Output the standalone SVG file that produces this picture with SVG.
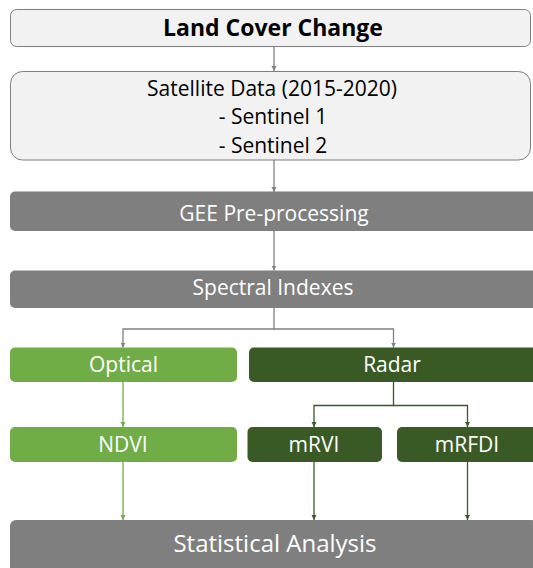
<svg xmlns="http://www.w3.org/2000/svg" width="533" height="568" viewBox="0 0 533 568">
<style>
.light{fill:#f2f2f2;stroke:#7f7f7f;stroke-width:1}
.grey{fill:#7f7f7f}
.green{fill:#70ad47}
.dark{fill:#3a5a25}
text{font-family:"Open Sans","Liberation Sans",sans-serif;text-anchor:middle}
.w{fill:#ffffff}
.b{fill:#000000}
.cg{stroke:#808080;stroke-width:1.3;fill:none}
.cl{stroke:#70ad47;stroke-width:1.3;fill:none}
.cd{stroke:#3a5a25;stroke-width:1.3;fill:none}
</style>
<defs>
<marker id="ag" markerWidth="6" markerHeight="6" refX="5" refY="3" orient="auto" markerUnits="userSpaceOnUse"><path d="M0,0.5 L5,3 L0,5.5 z" fill="#808080"/></marker>
<marker id="al" markerWidth="6" markerHeight="6" refX="5" refY="3" orient="auto" markerUnits="userSpaceOnUse"><path d="M0,0.5 L5,3 L0,5.5 z" fill="#70ad47"/></marker>
<marker id="ad" markerWidth="6" markerHeight="6" refX="5" refY="3" orient="auto" markerUnits="userSpaceOnUse"><path d="M0,0.5 L5,3 L0,5.5 z" fill="#3a5a25"/></marker>
</defs>
<g id="connectors">
<path class="cg" d="M274,46.5 V71" marker-end="url(#ag)"/>
<path class="cg" d="M274,160 V192" marker-end="url(#ag)"/>
<path class="cg" d="M274,231 V270.5" marker-end="url(#ag)"/>
<path class="cg" d="M274,308 V329 H123 V347.5" marker-end="url(#ag)"/>
<path class="cg" d="M274,329 H393.5 V347.5" marker-end="url(#ag)"/>
<path class="cl" d="M123,382 V427" marker-end="url(#al)"/>
<path class="cd" d="M393.5,382 V405.5 H314 V427" marker-end="url(#ad)"/>
<path class="cd" d="M393.5,405.5 H467.5 V427" marker-end="url(#ad)"/>
<path class="cl" d="M123,462 V520" marker-end="url(#al)"/>
<path class="cd" d="M314,462 V520" marker-end="url(#ad)"/>
<path class="cd" d="M467.5,462 V520" marker-end="url(#ad)"/>
</g>
<g id="land-cover-change">
<rect class="light" x="10.5" y="9.5" width="520" height="37" rx="6"/>
<text class="b" x="273" y="35.5" font-size="23" font-weight="bold">Land Cover Change</text>
</g>
<g id="satellite-data">
<rect class="light" x="10.5" y="71.5" width="520" height="88.5" rx="12"/>
<text class="b" x="272" y="96" font-size="21">Satellite Data (2015-2020)</text>
<text class="b" x="273" y="124" font-size="21">- Sentinel 1</text>
<text class="b" x="273" y="153" font-size="21">- Sentinel 2</text>
</g>
<g id="gee-preprocessing">
<rect class="grey" x="10" y="191.5" width="527" height="39.5" rx="5"/>
<text class="w" x="274" y="220.7" font-size="21">GEE Pre-processing</text>
</g>
<g id="spectral-indexes">
<rect class="grey" x="10" y="270.5" width="527" height="37.5" rx="5"/>
<text class="w" x="273" y="295" font-size="21">Spectral Indexes</text>
</g>
<g id="optical">
<rect class="green" x="10" y="347.5" width="227" height="34.5" rx="5"/>
<text class="w" x="123.5" y="372.3" font-size="21">Optical</text>
</g>
<g id="radar">
<rect class="dark" x="249" y="347.5" width="290" height="34.5" rx="5"/>
<text class="w" x="392" y="372.3" font-size="21">Radar</text>
</g>
<g id="ndvi">
<rect class="green" x="10" y="427" width="227" height="35" rx="5"/>
<text class="w" x="123" y="452.3" font-size="21">NDVI</text>
</g>
<g id="mrvi">
<rect class="dark" x="247.5" y="427" width="134.5" height="35" rx="5"/>
<text class="w" x="314" y="452.3" font-size="21">mRVI</text>
</g>
<g id="mrfdi">
<rect class="dark" x="397" y="427" width="140" height="35" rx="5"/>
<text class="w" x="467" y="452.3" font-size="21">mRFDI</text>
</g>
<g id="statistical-analysis">
<rect class="grey" x="10" y="520" width="527" height="60" rx="6"/>
<text class="w" x="275" y="552.3" font-size="24">Statistical Analysis</text>
</g>
</svg>
